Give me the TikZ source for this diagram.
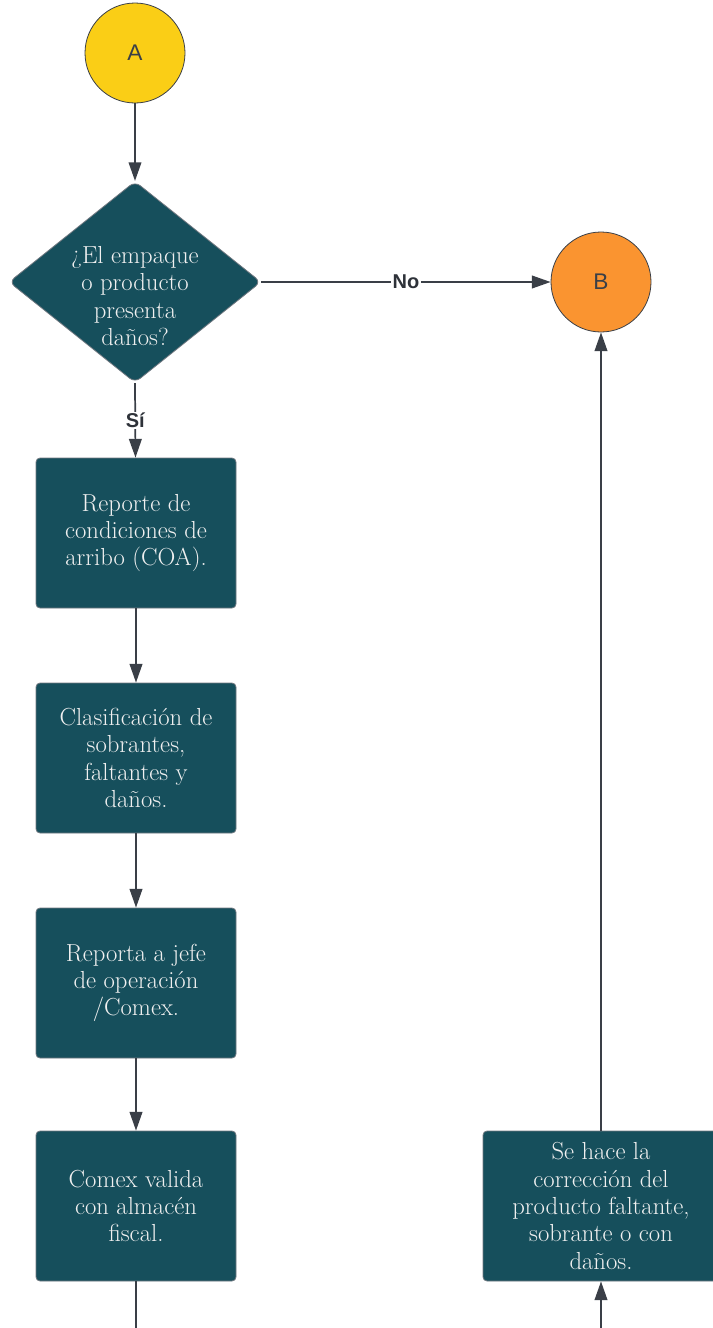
\documentclass[tikz,border=0pt]{standalone}
\usepackage{fontspec}
\newfontfamily\labelfont{Liberation Sans}
\usepackage{tikz}
\usetikzlibrary{positioning,shapes.geometric,arrows.meta}

\definecolor{petrol}{RGB}{22,79,92}
\definecolor{sunflower}{RGB}{250,206,22}
\definecolor{tangerine}{RGB}{250,148,48}
\definecolor{slate}{RGB}{58,63,71}
\definecolor{boxedge}{RGB}{112,120,128}

\tikzset{
  process/.style={rectangle, rounded corners=3pt, fill=petrol, draw=boxedge, line width=0.6pt,
    minimum width=150pt, minimum height=112.5pt, text=white!94!black, align=center,
    font=\fontsize{18.5}{20.5}\selectfont},
  decision/.style={diamond, rounded corners=5pt, fill=petrol, draw=boxedge, line width=0.6pt,
    minimum width=189pt, minimum height=151pt, inner sep=0pt},
  connector/.style={circle, draw=slate, line width=0.6pt, minimum size=75pt, inner sep=0pt,
    text=slate, font=\labelfont\fontsize{17}{20}\selectfont},
  flow/.style={draw=slate, line width=1.3pt, -{Triangle[length=14pt,width=9.5pt]}},
  branch/.style={fill=white, inner sep=1pt, text=slate!80!black, font=\labelfont\bfseries\fontsize{15}{17}\selectfont}
}

\begin{document}
\begin{tikzpicture}[x=0.75pt,y=0.75pt,yscale=-1,xscale=1]
        \useasboundingbox (0,0) rectangle (713,1328);
        %Shape: Circle
        \node[connector, fill=sunflower] (A) at (135,53) {A};
        %Flowchart: Decision
        \node[decision] (dec) at (135,282) {};
        % Text Node
        \node[align=center, text=white!94!black, font=\fontsize{18.5}{20.5}\selectfont]
            (decq) at ([yshift=10.5pt]dec.center) {¿El empaque\\o producto\\presenta\\daños?};
        %Shape: Circle
        \node[connector, fill=tangerine] (B) at (601,282) {B};
        %Flowchart: Process
        \node[process] (coa) at (136,533) {Reporte de\\condiciones de\\arribo (COA).};
        \node[process] (clas) at (136,758) {Clasificación de\\sobrantes,\\faltantes y\\daños.};
        \node[process] (jefe) at (136,983) {Reporta a jefe\\de operación\\/Comex.};
        \node[process] (fiscal) at (136,1206) {Comex valida\\con almacén\\fiscal.};
        \node[process, minimum width=177pt] (corr) at (601,1206)
            {Se hace la\\corrección del\\producto faltante,\\sobrante o con\\daños.};
        % off-page ends
        \coordinate (out) at (136,1340);
        \coordinate (in) at (601,1340);
        %Straight Lines
        \draw[flow] (A) -- (dec.north);
        \draw[flow] (dec.east) -- node[branch] {No} (B);
        \draw[flow] (dec.south) -- node[branch] {Sí} (coa);
        \draw[flow] (coa) -- (clas);
        \draw[flow] (clas) -- (jefe);
        \draw[flow] (jefe) -- (fiscal);
        \draw[flow, -] (fiscal) -- (out);
        \draw[flow] (corr) -- (B);
        \draw[flow] (in) -- (corr);
\end{tikzpicture}
\end{document}
